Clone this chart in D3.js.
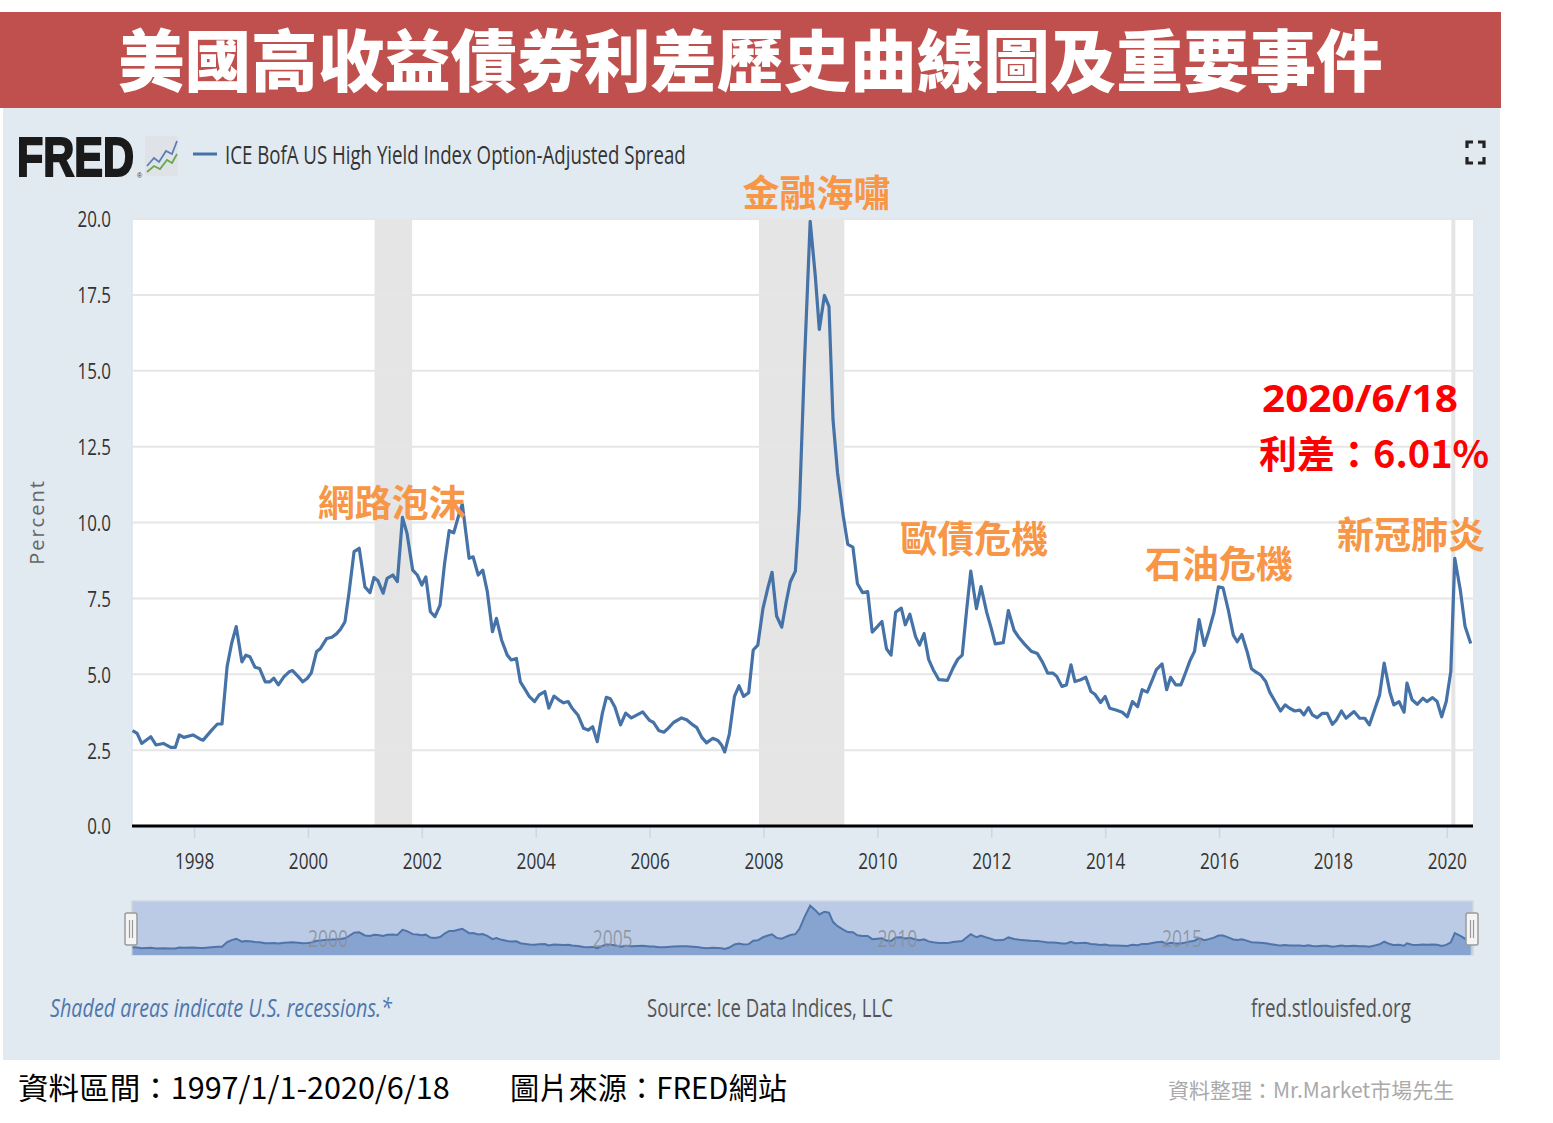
<!DOCTYPE html>
<html>
<head>
<meta charset="utf-8">
<script src="https://cdn.jsdelivr.net/npm/d3@7"></script>
<style>
  body { margin: 0; background: #fff; }
  svg { display: block; }
</style>
</head>
<body>
<svg id="chart"></svg>
<script>
const title = "美國高收益債券利差歷史曲線圖及重要事件";
const seriesName = "ICE BofA US High Yield Index Option-Adjusted Spread";

// spread (decimal year, percent)
const spreadYears = [
  1996.92,1997.00,1997.08,1997.24,1997.33,1997.46,1997.59,1997.67,1997.74,1997.82,1997.98,
  1998.11,1998.16,1998.31,1998.41,1998.49,1998.58,1998.66,1998.74,1998.84,1998.91,1998.98,
  1999.07,1999.15,1999.25,1999.33,1999.40,1999.48,1999.58,1999.67,1999.73,1999.83,1999.91,1999.99,
  2000.06,2000.15,2000.22,2000.33,2000.42,2000.50,2000.57,2000.65,2000.72,2000.81,2000.90,
  2001.00,2001.09,2001.16,2001.23,2001.32,2001.39,2001.49,2001.57,2001.66,2001.74,2001.84,2001.92,
  2002.00,2002.07,2002.15,2002.23,2002.32,2002.40,2002.48,2002.56,2002.64,2002.71,2002.83,2002.90,2002.99,
  2003.07,2003.15,2003.24,2003.31,2003.40,2003.50,2003.57,2003.66,2003.73,2003.82,2003.89,2003.98,
  2004.06,2004.16,2004.23,2004.32,2004.41,2004.49,2004.57,2004.64,2004.74,2004.84,2004.92,
  2005.00,2005.08,2005.17,2005.24,2005.31,2005.39,2005.49,2005.58,2005.68,2005.88,
  2006.00,2006.07,2006.16,2006.25,2006.32,2006.42,2006.56,2006.65,2006.76,2006.83,2006.92,
  2007.00,2007.11,2007.20,2007.26,2007.32,2007.40,2007.49,2007.57,2007.65,2007.74,2007.82,2007.90,2007.99,
  2008.08,2008.15,2008.23,2008.32,2008.40,2008.47,2008.56,2008.63,2008.72,2008.82,2008.91,2008.98,
  2009.07,2009.15,2009.22,2009.30,2009.40,2009.48,2009.57,2009.65,2009.74,2009.83,2009.91,
  2010.00,2010.08,2010.16,2010.24,2010.32,2010.42,2010.49,2010.57,2010.67,2010.74,2010.82,2010.90,2010.98,
  2011.08,2011.23,2011.33,2011.41,2011.49,2011.57,2011.64,2011.74,2011.82,2011.92,
  2012.00,2012.07,2012.21,2012.30,2012.40,2012.49,2012.58,2012.70,2012.81,2012.90,2012.99,
  2013.08,2013.15,2013.24,2013.32,2013.40,2013.47,2013.57,2013.66,2013.75,2013.82,2013.92,
  2014.00,2014.08,2014.19,2014.30,2014.39,2014.48,2014.57,2014.65,2014.74,2014.83,2014.90,
  2015.00,2015.08,2015.15,2015.24,2015.33,2015.42,2015.49,2015.57,2015.65,2015.74,2015.82,2015.91,2015.99,
  2016.07,2016.16,2016.25,2016.32,2016.40,2016.50,2016.57,2016.65,2016.73,2016.82,2016.89,2016.98,
  2017.08,2017.16,2017.24,2017.33,2017.42,2017.49,2017.57,2017.64,2017.72,2017.81,2017.90,2017.99,
  2018.06,2018.15,2018.23,2018.37,2018.47,2018.56,2018.64,2018.74,2018.82,2018.90,
  2019.00,2019.07,2019.16,2019.25,2019.30,2019.39,2019.48,2019.58,2019.65,2019.75,2019.83,2019.91,2019.99,
  2020.07,2020.14,2020.24,2020.32,2020.42
];
const spreadValues = [
  3.14,3.05,2.72,2.94,2.67,2.72,2.59,2.59,3.00,2.92,3.00,
  2.86,2.83,3.16,3.36,3.36,5.25,6.02,6.57,5.41,5.63,5.58,
  5.23,5.19,4.75,4.75,4.87,4.65,4.92,5.08,5.12,4.92,4.75,4.87,
  5.05,5.74,5.85,6.18,6.22,6.33,6.48,6.73,7.67,9.04,9.15,
  7.88,7.69,8.19,8.08,7.67,8.16,8.27,8.05,10.17,9.64,8.43,8.27,
  7.94,8.21,7.06,6.90,7.28,8.66,9.73,9.66,10.19,10.61,8.82,8.87,8.27,
  8.43,7.72,6.40,6.84,6.13,5.63,5.47,5.52,4.75,4.48,4.26,4.10,
  4.32,4.43,3.88,4.28,4.15,4.06,4.10,3.88,3.66,3.22,3.16,
  3.27,2.78,3.71,4.24,4.19,3.92,3.33,3.72,3.56,3.76,
  3.48,3.41,3.15,3.09,3.21,3.41,3.56,3.50,3.33,3.24,2.91,
  2.74,2.89,2.82,2.68,2.44,3.03,4.27,4.62,4.27,4.39,5.80,5.96,7.16,
  7.87,8.36,6.92,6.55,7.39,8.04,8.40,10.46,15.30,19.92,18.12,16.36,
  17.48,17.12,13.41,11.64,10.22,9.28,9.19,7.98,7.69,7.72,6.39,
  6.57,6.74,5.84,5.63,7.04,7.18,6.63,6.98,6.24,5.96,6.34,5.49,5.15,
  4.82,4.80,5.21,5.49,5.63,7.16,8.40,7.16,7.89,7.04,
  6.51,6.00,6.04,7.10,6.45,6.20,6.00,5.76,5.68,5.40,5.04,
  5.04,4.93,4.60,4.65,5.31,4.76,4.82,4.90,4.43,4.34,4.07,
  4.27,3.88,3.82,3.75,3.60,4.10,3.93,4.49,4.41,4.82,5.15,
  5.34,4.49,4.90,4.65,4.65,5.09,5.45,5.76,6.80,5.95,6.42,7.03,7.88,
  7.85,7.14,6.29,6.07,6.31,5.70,5.18,5.07,4.98,4.76,4.41,4.12,
  3.79,3.99,3.88,3.79,3.82,3.66,3.90,3.66,3.57,3.71,3.71,3.35,
  3.49,3.79,3.55,3.77,3.55,3.55,3.33,3.88,4.32,5.37,
  4.41,3.99,4.10,3.75,4.71,4.16,4.01,4.21,4.10,4.23,4.10,3.60,4.10,
  5.09,8.82,7.74,6.58,6.01
];

const recessions = [[2001.17, 2001.83], [2007.92, 2009.42], [2020.08, 2020.15]];
const yTicks = [0, 2.5, 5, 7.5, 10, 12.5, 15, 17.5, 20];
const xTicks = [1998, 2000, 2002, 2004, 2006, 2008, 2010, 2012, 2014, 2016, 2018, 2020];
const navTicks = [2000, 2005, 2010, 2015];

const eventNames = ["網路泡沫", "金融海嘯", "歐債危機", "石油危機", "新冠肺炎"];
const latestDate = "2020/6/18";
const latestLabel = "利差：6.01%";

const footLeft = "Shaded areas indicate U.S. recessions.*";
const footMid = "Source: Ice Data Indices, LLC";
const footRight = "fred.stlouisfed.org";
const noteRange = "資料區間：1997/1/1-2020/6/18";
const noteSource = "圖片來源：FRED網站";
const noteAuthor = "資料整理：Mr.Market市場先生";

const width = 1553, height = 1123;
const plot = { left: 132, right: 1473, top: 219, bottom: 826 };
const fredFont = "'Open Sans', 'Liberation Sans', sans-serif";
const cjkFont = "'Noto Sans CJK TC', 'Noto Sans CJK SC', sans-serif";

const svg = d3.select("#chart").attr("width", width).attr("height", height);

// squeeze text horizontally (FRED uses a condensed face)
function condense(sel, k) {
  sel.each(function () {
    const t = d3.select(this);
    const x0 = +t.attr("x") || 0, y0 = +t.attr("y") || 0;
    t.attr("x", 0).attr("y", 0).attr("transform", `translate(${x0},${y0}) scale(${k},1)`);
  });
}
// squeeze to a given width
function fitWidth(sel, w) {
  sel.each(function () {
    const k = w / this.getComputedTextLength();
    condense(d3.select(this), k);
  });
}

// panel + banner
svg.append("rect").attr("x", 3).attr("y", 108).attr("width", 1497).attr("height", 952).attr("fill", "#e1e9f1");
svg.append("rect").attr("x", 0).attr("y", 12).attr("width", 1501).attr("height", 96).attr("fill", "#c0504d");
const titleText = svg.append("text")
  .attr("x", 118).attr("y", 86)
  .style("font-family", cjkFont).style("font-weight", 900).style("font-size", "67px")
  .attr("fill", "#fff")
  .text(title);
fitWidth(titleText, 1265);

const x = d3.scaleLinear().domain([1996.91, 2020.46]).range([plot.left, plot.right]);
const y = d3.scaleLinear().domain([0, 20]).range([plot.bottom, plot.top]);

// plot background
svg.append("rect")
  .attr("x", plot.left).attr("y", plot.top)
  .attr("width", plot.right - plot.left).attr("height", plot.bottom - plot.top)
  .attr("fill", "#fff");

// recessions
svg.append("g").selectAll("rect")
  .data(recessions)
  .enter()
  .append("rect")
  .attr("x", d => x(d[0]))
  .attr("width", d => x(d[1]) - x(d[0]))
  .attr("y", plot.top)
  .attr("height", plot.bottom - plot.top)
  .attr("fill", "#e5e5e5");

// grid
svg.append("g")
  .selectAll("line")
  .data(yTicks.filter(d => d > 0))
  .enter()
  .append("line")
  .attr("x1", plot.left).attr("x2", plot.right)
  .attr("y1", d => y(d)).attr("y2", d => y(d))
  .attr("stroke", "#e6e6e6").attr("stroke-width", 2);

svg.append("line")
  .attr("x1", plot.left).attr("x2", plot.left)
  .attr("y1", plot.top).attr("y2", plot.bottom)
  .attr("stroke", "#dbe4ee").attr("stroke-width", 1.5);

// y axis labels
const yAxis = svg.append("g")
  .attr("transform", `translate(${plot.left - 21},0)`)
  .call(d3.axisLeft(y).tickValues(yTicks).tickFormat(d3.format(".1f")).tickSize(0).tickPadding(0))
  .call(g => g.select(".domain").remove());
yAxis.selectAll("text")
  .attr("fill", "#333").attr("dy", "0.36em")
  .style("font-family", fredFont).style("font-size", "22px");
condense(yAxis.selectAll("text"), 0.77);

svg.append("text")
  .attr("transform", "rotate(-90)")
  .attr("x", -522).attr("y", 44)
  .attr("text-anchor", "middle")
  .style("font-family", fredFont).style("font-size", "20px").style("letter-spacing", "2px")
  .attr("fill", "#666")
  .text("Percent");

// x axis
const xAxis = svg.append("g")
  .attr("transform", `translate(0,${plot.bottom})`)
  .call(d3.axisBottom(x).tickValues(xTicks).tickFormat(d3.format("d")).tickSize(12).tickPadding(15))
  .call(g => g.select(".domain").remove());
xAxis.selectAll("line").attr("stroke", "#ccd6e6").attr("stroke-width", 1.5);
xAxis.selectAll("text")
  .attr("fill", "#333")
  .style("font-family", fredFont).style("font-size", "22px");
condense(xAxis.selectAll("text"), 0.78);

svg.append("line")
  .attr("x1", plot.left).attr("x2", plot.right)
  .attr("y1", plot.bottom).attr("y2", plot.bottom)
  .attr("stroke", "#000").attr("stroke-width", 3);

// series
const points = spreadYears.map((t, i) => [t, spreadValues[i]]);
const line = d3.line().x(d => x(d[0])).y(d => y(d[1]));
svg.append("path")
  .datum(points)
  .attr("d", line)
  .attr("fill", "none")
  .attr("stroke", "#4572a7")
  .attr("stroke-width", 3.2)
  .attr("stroke-linejoin", "round");

// navigator
const nav = { top: 901, bottom: 955 };
const ny = d3.scaleLinear().domain([0, 21]).range([nav.bottom, nav.top + 2]);
svg.append("rect")
  .attr("x", plot.left).attr("y", nav.top)
  .attr("width", plot.right - plot.left).attr("height", nav.bottom - nav.top)
  .attr("fill", "#bccbe5").attr("stroke", "#cfd6df").attr("stroke-width", 1.5);
svg.append("path")
  .datum(points)
  .attr("d", d3.area().x(d => x(d[0])).y0(nav.bottom).y1(d => ny(d[1])))
  .attr("fill", "#87a3cf");
svg.append("path")
  .datum(points)
  .attr("d", d3.line().x(d => x(d[0])).y(d => ny(d[1])))
  .attr("fill", "none").attr("stroke", "#4f74aa").attr("stroke-width", 2);

const navLabels = svg.append("g").selectAll("text")
  .data(navTicks)
  .enter()
  .append("text")
  .attr("x", d => x(d))
  .attr("y", 947)
  .style("font-family", fredFont).style("font-size", "23px")
  .attr("fill", "#8a8f99").attr("fill-opacity", 0.85)
  .text(d => d);
condense(navLabels, 0.76);

[plot.left - 1, plot.right - 1].forEach(hx => {
  const h = svg.append("g").attr("transform", `translate(${hx},929)`);
  h.append("rect").attr("x", -6).attr("y", -16).attr("width", 12).attr("height", 32)
    .attr("rx", 2).attr("fill", "#f4f4f4").attr("stroke", "#9a9a9a").attr("stroke-width", 1.5);
  h.append("line").attr("x1", -1.5).attr("x2", -1.5).attr("y1", -9).attr("y2", 9).attr("stroke", "#999").attr("stroke-width", 1.2);
  h.append("line").attr("x1", 1.5).attr("x2", 1.5).attr("y1", -9).attr("y2", 9).attr("stroke", "#999").attr("stroke-width", 1.2);
});

// FRED header
const logo = svg.append("text")
  .attr("x", 17).attr("y", 176)
  .style("font-family", "'Liberation Sans', Arial, sans-serif").style("font-weight", 700).style("font-size", "55px")
  .attr("fill", "#1a1a1a").attr("stroke", "#1a1a1a").attr("stroke-width", 2.2)
  .text("FRED");
fitWidth(logo, 117);
svg.append("text")
  .attr("x", 137).attr("y", 178)
  .style("font-family", "'Liberation Sans', Arial, sans-serif").style("font-size", "7px")
  .attr("fill", "#333").text("®");

const icon = svg.append("g").attr("transform", "translate(145,136)");
icon.append("rect").attr("width", 33).attr("height", 40).attr("rx", 2).attr("fill", "#dfe3e8");
icon.append("polyline")
  .attr("points", "2,30 9,22 14,26 21,15 27,18 32,5")
  .attr("fill", "none").attr("stroke", "#5b7fb5").attr("stroke-width", 1.8);
icon.append("polyline")
  .attr("points", "2,36 9,30 15,33 22,24 27,27 32,18")
  .attr("fill", "none").attr("stroke", "#6aa84f").attr("stroke-width", 1.8);

svg.append("line")
  .attr("x1", 193).attr("x2", 217).attr("y1", 154).attr("y2", 154)
  .attr("stroke", "#4572a7").attr("stroke-width", 3);
const legendText = svg.append("text")
  .attr("x", 225).attr("y", 164)
  .style("font-family", fredFont).style("font-size", "25px")
  .attr("fill", "#333")
  .text(seriesName);
fitWidth(legendText, 461);

// fullscreen glyph
svg.append("path")
  .attr("d", "M1467,148 V142 H1473 M1478,142 H1484 V148 M1484,157 V163 H1478 M1473,163 H1467 V157")
  .attr("fill", "none").attr("stroke", "#222").attr("stroke-width", 3.2);

// event labels, anchored in data space
const eventAnchors = [[2001.47, 10.18], [2008.93, 20.40], [2011.70, 9.0], [2016.0, 8.17], [2019.37, 9.13]];
svg.append("g").selectAll("text")
  .data(eventNames)
  .enter()
  .append("text")
  .attr("x", (d, i) => x(eventAnchors[i][0]))
  .attr("y", (d, i) => y(eventAnchors[i][1]))
  .attr("text-anchor", "middle")
  .style("font-family", cjkFont).style("font-weight", 700).style("font-size", "37px")
  .attr("fill", "#f79646")
  .text(d => d);

// latest value note
const dateText = svg.append("text")
  .attr("x", 1262).attr("y", 412)
  .style("font-family", "'Noto Sans', sans-serif").style("font-weight", 700).style("font-size", "38px")
  .attr("fill", "#ff0000")
  .text(latestDate);
fitWidth(dateText, 196);
svg.append("text")
  .attr("x", 1259).attr("y", 468)
  .style("font-family", cjkFont).style("font-weight", 700).style("font-size", "38px")
  .attr("fill", "#ff0000")
  .text(latestLabel);

// footer inside panel
const f1 = svg.append("text")
  .attr("x", 50).attr("y", 1017)
  .style("font-family", fredFont).style("font-style", "italic").style("font-size", "25px")
  .attr("fill", "#4f76ab").text(footLeft);
fitWidth(f1, 342);
const f2 = svg.append("text")
  .attr("x", 647).attr("y", 1017)
  .style("font-family", fredFont).style("font-size", "25px")
  .attr("fill", "#555").text(footMid);
fitWidth(f2, 246);
const f3 = svg.append("text")
  .attr("x", 1251).attr("y", 1017)
  .style("font-family", fredFont).style("font-size", "25px")
  .attr("fill", "#555").text(footRight);
fitWidth(f3, 160);

// notes below panel
const n1 = svg.append("text")
  .attr("x", 18).attr("y", 1099)
  .style("font-family", cjkFont).style("font-size", "30px")
  .attr("fill", "#000").text(noteRange);
fitWidth(n1, 432);
const n2 = svg.append("text")
  .attr("x", 510).attr("y", 1099)
  .style("font-family", cjkFont).style("font-size", "30px")
  .attr("fill", "#000").text(noteSource);
fitWidth(n2, 277);
svg.append("text")
  .attr("x", 1168).attr("y", 1098)
  .style("font-family", cjkFont).style("font-size", "21px")
  .attr("fill", "#aaa").text(noteAuthor);
</script>
</body>
</html>
